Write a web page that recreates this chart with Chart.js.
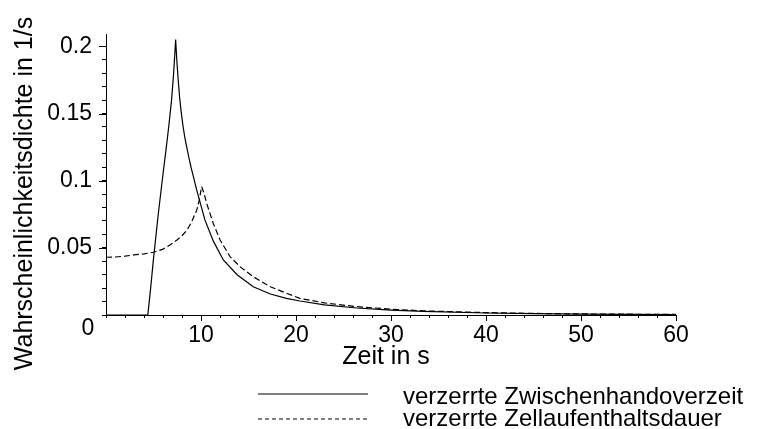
<!DOCTYPE html>
<html><head><meta charset="utf-8">
<script src="https://cdn.jsdelivr.net/npm/chart.js@4"></script>
<style>html,body{margin:0;padding:0;background:#fff;}#wrap{width:770px;height:429px;}</style>
</head><body><div id="wrap"><canvas id="c" width="770" height="429"></canvas></div>
<script>
// ---- data ----
const xTickLabels = ['10', '20', '30', '40', '50', '60'];
const yTickLabels = ['0.05', '0.1', '0.15', '0.2'];
const originLabel = '0';
const xTitle = 'Zeit in s';
const yTitle = 'Wahrscheinlichkeitsdichte in 1/s';
const legendLabels = ['verzerrte Zwischenhandoverzeit', 'verzerrte Zellaufenthaltsdauer'];

// verzerrte Zwischenhandoverzeit (solid)
const zwischenX = [0, 4.4, 4.7, 5.0, 5.5, 6.0, 6.3, 6.6, 6.9, 7.1, 7.25, 7.33,
  7.45, 7.6, 7.75, 7.9, 8.1, 8.3, 8.5, 8.7, 8.95, 9.2, 9.55, 9.9, 10.4, 11.3, 12.35, 13.8, 15.5, 17.3, 19.0, 20.4,
  23, 26.4, 30, 33.4, 40, 45, 50, 55, 60];
const zwischenY = [0, 0, 0.02, 0.042, 0.075, 0.105, 0.122, 0.14, 0.16, 0.178, 0.195, 0.205,
  0.19, 0.175, 0.162, 0.152, 0.141, 0.132, 0.125, 0.118, 0.110, 0.103, 0.093, 0.084, 0.071, 0.055, 0.041, 0.030, 0.021, 0.0156, 0.0124, 0.0104,
  0.0075, 0.0052, 0.0037, 0.0027, 0.0015, 0.0010, 0.0007, 0.0005, 0.0003];

// verzerrte Zellaufenthaltsdauer (dashed)
const zelleX = [0, 1, 2, 2.9, 4, 5, 6, 6.7, 7.5, 8.0, 8.5, 9.0, 9.3, 9.55, 9.8, 10.07,
  10.3, 10.6, 11.3, 12.0, 13.05, 14.1, 15.5, 17.3, 19.0, 20.4,
  23, 26.4, 30, 33.4, 40, 45, 50, 55, 60];
const zelleY = [0.043, 0.0432, 0.0438, 0.0447, 0.0455, 0.0467, 0.049, 0.052, 0.056, 0.059, 0.063, 0.069, 0.074, 0.078, 0.085, 0.0956,
  0.091, 0.083, 0.068, 0.056, 0.0435, 0.036, 0.0285, 0.021, 0.0162, 0.0124,
  0.0090, 0.0062, 0.0043, 0.0031, 0.0018, 0.0012, 0.0008, 0.0006, 0.0004];

// ---- chart ----
const FONT = "'Liberation Sans', Arial, Helvetica, sans-serif";
const toPts = (xs, ys) => xs.map((x, i) => ({x: x, y: ys[i]}));

const decor = {
  id: 'decor',
  afterDraw(chart) {
    const ctx = chart.ctx;
    const xs = chart.scales.x, ys = chart.scales.y;
    const x0 = xs.getPixelForValue(0), y0 = ys.getPixelForValue(0);
    ctx.save();
    ctx.strokeStyle = '#000';
    ctx.lineWidth = 1;
    // longer major ticks
    ctx.beginPath();
    xTickLabels.forEach((t) => {
      const px = Math.round(xs.getPixelForValue(parseFloat(t))) + 0.5;
      ctx.moveTo(px, Math.round(y0)); ctx.lineTo(px, Math.round(y0) + 6);
    });
    yTickLabels.forEach((t) => {
      const py = Math.round(ys.getPixelForValue(parseFloat(t))) + 0.5;
      ctx.moveTo(Math.round(x0) - 7, py); ctx.lineTo(Math.round(x0), py);
    });
    ctx.stroke();
    ctx.fillStyle = '#000';
    // origin label
    ctx.font = '23px ' + FONT;
    ctx.textAlign = 'center';
    ctx.textBaseline = 'alphabetic';
    ctx.fillText(originLabel, x0 - 18, y0 + 20);
    // x title
    ctx.font = '25px ' + FONT;
    ctx.fillText(xTitle, 386, 364);
    // y title
    ctx.save();
    ctx.translate(32, 193.5);
    ctx.rotate(-Math.PI / 2);
    ctx.fillText(yTitle, 0, 0);
    ctx.restore();
    // legend
    ctx.font = '24px ' + FONT;
    ctx.textAlign = 'left';
    ctx.fillText(legendLabels[0], 403, 404);
    ctx.fillText(legendLabels[1], 403, 426);
    ctx.beginPath();
    ctx.moveTo(258, 394); ctx.lineTo(368, 394);
    ctx.stroke();
    ctx.setLineDash([4, 3]);
    ctx.beginPath();
    ctx.moveTo(258, 419); ctx.lineTo(368, 419);
    ctx.stroke();
    ctx.restore();
  }
};

new Chart(document.getElementById('c'), {
  type: 'line',
  data: {
    datasets: [
      {label: legendLabels[0], data: toPts(zwischenX, zwischenY), borderColor: '#000', borderWidth: 1.2,
       pointRadius: 0, tension: 0, fill: false},
      {label: legendLabels[1], data: toPts(zelleX, zelleY), borderColor: '#000', borderWidth: 1.2,
       borderDash: [6, 3], pointRadius: 0, tension: 0, fill: false}
    ]
  },
  options: {
    responsive: false,
    animation: false,
    devicePixelRatio: 1,
    layout: {padding: {left: 0, right: 94, top: 34, bottom: 0}},
    plugins: {legend: {display: false}, tooltip: {enabled: false}},
    scales: {
      x: {
        type: 'linear', min: 0, max: 60,
        afterFit: (s) => { s.height = 114; },
        border: {display: true, color: '#000', width: 1},
        grid: {drawOnChartArea: false, drawTicks: true, tickLength: 3, tickColor: '#000', tickWidth: 1},
        ticks: {
          stepSize: 2, autoSkip: false, maxRotation: 0, padding: 4, color: '#000',
          font: {family: FONT, size: 23},
          callback: (v) => (v > 0 && v % 10 === 0) ? xTickLabels[v / 10 - 1] : ''
        }
      },
      y: {
        type: 'linear', min: 0, max: 0.2092,
        afterFit: (s) => { s.width = 106; },
        border: {display: true, color: '#000', width: 1},
        grid: {drawOnChartArea: false, drawTicks: true, tickLength: 4, tickColor: '#000', tickWidth: 1},
        ticks: {
          stepSize: 0.01, includeBounds: false, autoSkip: false, padding: 10, color: '#000',
          font: {family: FONT, size: 23},
          callback: (v) => { const r = Math.round(v * 100); return (r > 0 && r % 5 === 0) ? yTickLabels[r / 5 - 1] : ''; }
        }
      }
    }
  },
  plugins: [decor]
});
</script></body></html>
